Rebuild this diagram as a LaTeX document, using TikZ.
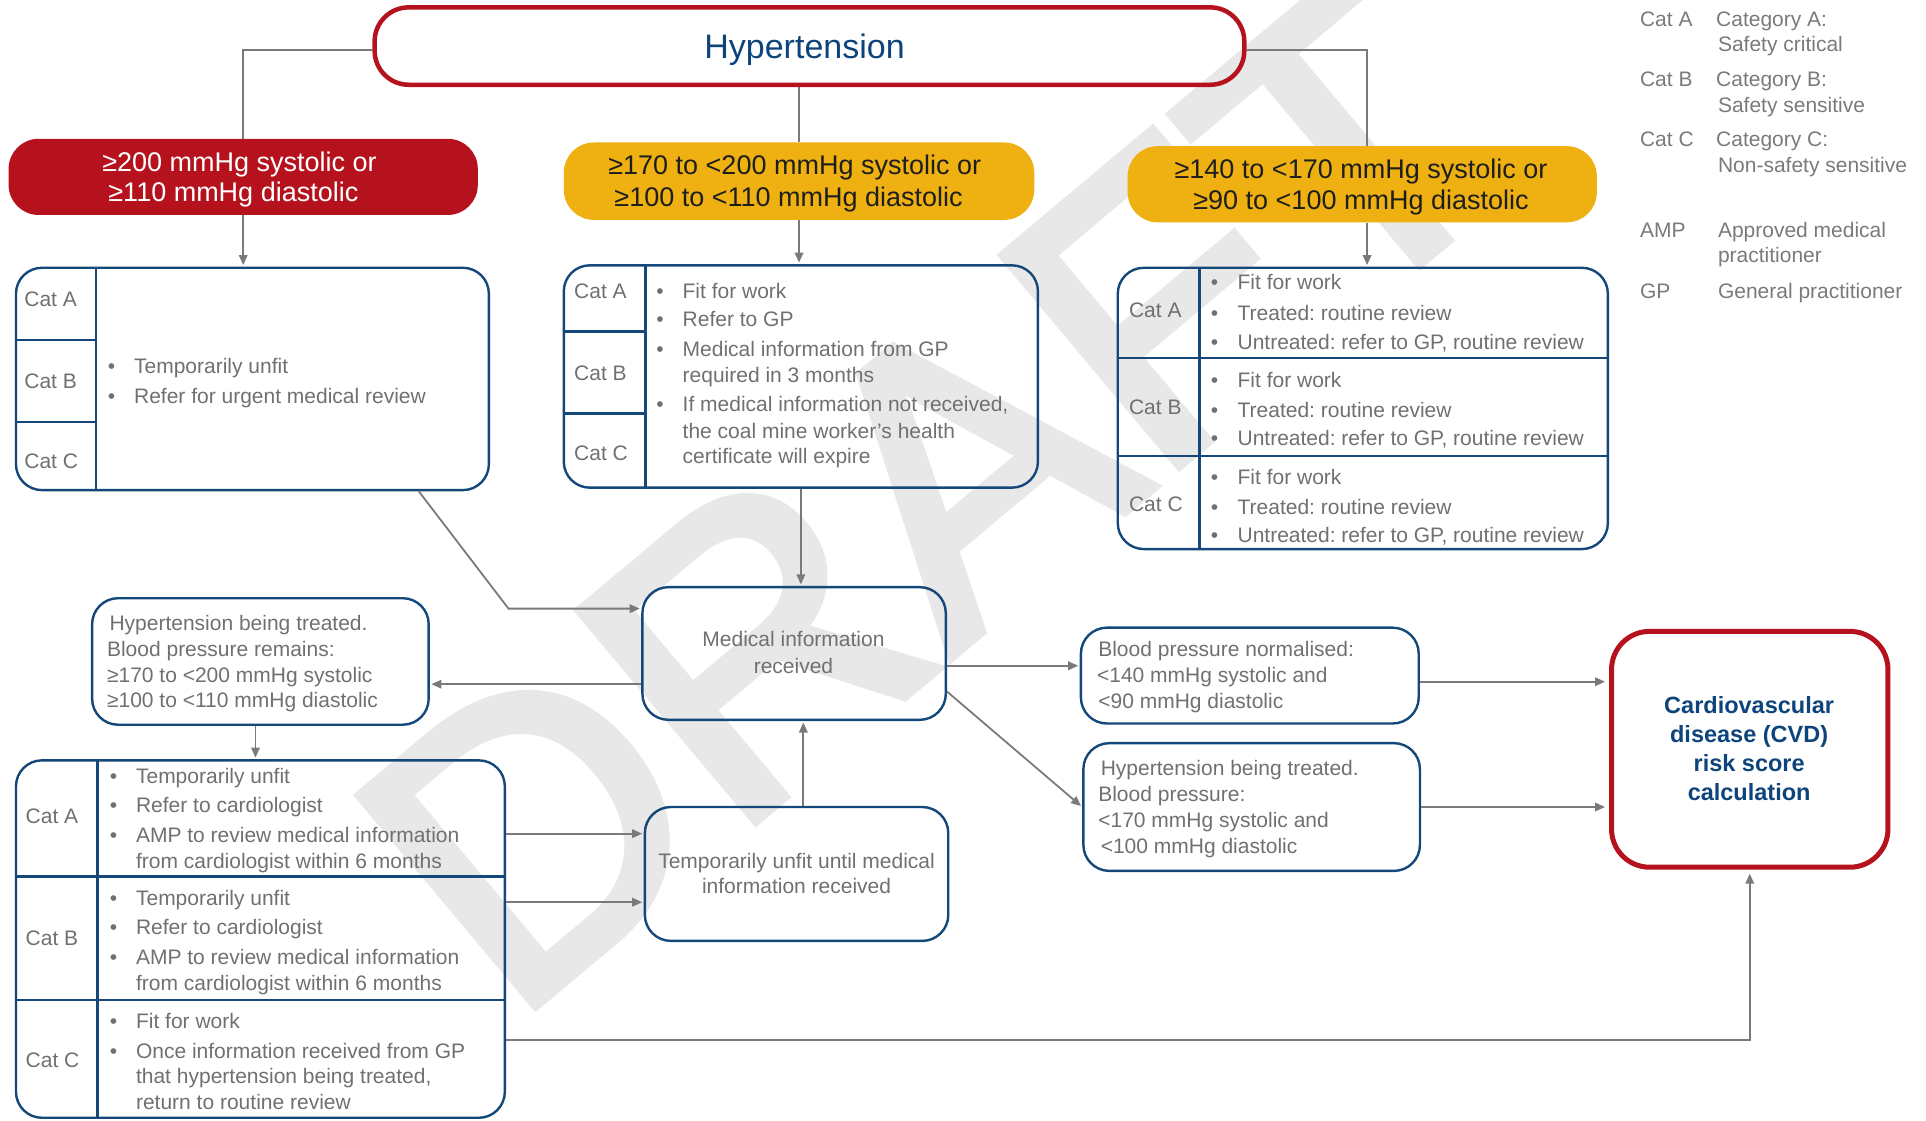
\documentclass[tikz,border=0pt]{standalone}
\usepackage{fontspec}
\setmainfont{Liberation Sans}
\newfontfamily\wmfont[FakeBold=2.5]{Liberation Sans}
\usetikzlibrary{arrows.meta,fit,calc}
\definecolor{hred}{RGB}{181,18,30}
\definecolor{hyel}{RGB}{238,177,17}
\definecolor{hblue}{RGB}{20,72,122}
\definecolor{titleblue}{RGB}{14,68,124}
\definecolor{tgray}{RGB}{112,112,112}
\definecolor{lgray}{RGB}{122,122,122}
\definecolor{wmgray}{RGB}{232,232,232}
\definecolor{dtext}{RGB}{30,30,30}
\frenchspacing
\begin{document}
\begin{tikzpicture}[x=1.2283pt,y=-1.2283pt,
  txt/.style={font=\fontsize{21}{26}\selectfont, text=tgray, inner sep=0pt, text height=15.5pt, text depth=1.5pt, anchor=west},
  ctxt/.style={txt, anchor=center},
  bul/.style={txt, anchor=center},
  hdr/.style={font=\fontsize{27}{32}\selectfont, inner sep=0pt, text height=20pt, text depth=2pt, anchor=center},
  cvdt/.style={font=\fontsize{23.5}{28}\selectfont\bfseries, text=titleblue, inner sep=0pt, text height=17pt, text depth=2pt, anchor=center},
  box/.style={draw=hblue, line width=2.4pt, rounded corners=26pt, inner sep=0pt},
  redbox/.style={draw=hred, line width=4.5pt, rounded corners=34pt, inner sep=0pt},
  fillbox/.style={rounded corners=30pt, inner sep=0pt},
  sep/.style={draw=hblue, line width=2.4pt},
  conn/.style={draw=lgray, line width=1.8pt},
  arr/.style={conn, -{Triangle[length=10pt,width=8.5pt]}, shorten >=1.5pt},
  wm/.style={font=\wmfont\fontsize{398}{398}\selectfont, text=wmgray, inner sep=0pt}
]
\useasboundingbox (0,0) rectangle (1568,912);
% watermark
\node[wm, rotate=40] (wm) at (758,403) {DRAFT};

% ---------- boxes ----------
\node[redbox, fit={(305,6) (1013,69)}] (ht) {};
\node[fillbox, fill=hred, fit={(7,113) (389,175)}] (rb) {};
\node[fillbox, fill=hyel, fit={(459,116) (842,179)}] (yb2) {};
\node[fillbox, fill=hyel, fit={(918,119) (1300,181)}] (yb3) {};
\node[box, fit={(13,218) (398,399)}] (tab1) {};
\node[box, fit={(459,216) (845,397)}] (tab2) {};
\node[box, fit={(910,218) (1309,447)}] (tab3) {};
\node[box, fit={(13,619) (411,910)}] (tab4) {};
\node[box, fit={(523,478) (770,586)}] (med) {};
\node[box, fit={(525,657) (772,766)}] (temp) {};
\node[box, fit={(75,487) (349,590)}] (htl) {};
\node[box, fit={(880,511) (1155,589)}] (bpn) {};
\node[box, fit={(882,605) (1156,709)}] (htr) {};
\node[redbox, line width=5pt, rounded corners=38pt, fit={(1312,514) (1537,706)}] (cvd) {};

% table inner lines
\draw[sep] (78,218) -- (78,399);
\draw[sep] (13,277) -- (78,277);
\draw[sep] (13,343.5) -- (78,343.5);
\draw[sep] (525.5,216) -- (525.5,397);
\draw[sep] (459,270) -- (525.5,270);
\draw[sep] (459,336.5) -- (525.5,336.5);
\draw[sep] (976.5,218) -- (976.5,447);
\draw[sep] (910,291.5) -- (1309,291.5);
\draw[sep] (910,371) -- (1309,371);
\draw[sep] (79.5,619) -- (79.5,910);
\draw[sep] (13,713.5) -- (411,713.5);
\draw[sep] (13,814) -- (411,814);

% ---------- texts ----------
\node[font=\fontsize{34}{40}\selectfont, text=titleblue, inner sep=0pt, text height=25pt, text depth=2pt] (httxt) at (655,38) {Hypertension};
\node[hdr, text=white] (rb1) at (195,132) {≥200 mmHg systolic or};
\node[hdr, text=white] (rb2) at (190,157) {≥110 mmHg diastolic};
\node[hdr, text=dtext] (yb21) at (647,135) {≥170 to <200 mmHg systolic or};
\node[hdr, text=dtext] (yb22) at (642,161) {≥100 to <110 mmHg diastolic};
\node[hdr, text=dtext] (yb31) at (1108,138) {≥140 to <170 mmHg systolic or};
\node[hdr, text=dtext] (yb32) at (1108,163) {≥90 to <100 mmHg diastolic};

% table 1
\node[txt] (t1ca) at (19.7,244) {Cat A};
\node[txt] (t1cb) at (19.7,310.5) {Cat B};
\node[txt] (t1cc) at (19.7,376) {Cat C};
\node[bul] (t1b1) at (90.9,298.5) {•};
\node[txt] (t1l1) at (109,298.5) {Temporarily unfit};
\node[bul] (t1b2) at (90.9,323) {•};
\node[txt] (t1l2) at (109,323) {Refer for urgent medical review};

% table 2
\node[txt] (t2ca) at (467.3,237.5) {Cat A};
\node[txt] (t2cb) at (467.3,304) {Cat B};
\node[txt] (t2cc) at (467.3,369.6) {Cat C};
\node[bul] (t2b1) at (537.4,237) {•};
\node[txt] (t2l1) at (555.6,237) {Fit for work};
\node[bul] (t2b2) at (537.4,260) {•};
\node[txt] (t2l2) at (555.6,260) {Refer to GP};
\node[bul] (t2b3) at (537.4,284.4) {•};
\node[txt] (t2l3) at (555.6,284.4) {Medical information from GP};
\node[txt] (t2l4) at (555.6,306) {required in 3 months};
\node[bul] (t2b5) at (537.4,329) {•};
\node[txt] (t2l5) at (555.6,329) {If medical information not received,};
\node[txt] (t2l6) at (555.6,351) {the coal mine worker’s health};
\node[txt] (t2l7) at (555.6,371.8) {certificate will expire};

% table 3
\node[txt] (t3ca) at (919,253) {Cat A};
\node[txt] (t3cb) at (919,332) {Cat B};
\node[txt] (t3cc) at (919,410.8) {Cat C};
\foreach \r/\ya/\yb/\yc in {a/230.3/255/278.5, b/309.7/333.8/357, c/389/412.9/436}{
  \node[bul] (t3\r b1) at (988.7,\ya) {•};
  \node[txt] (t3\r l1) at (1007.4,\ya) {Fit for work};
  \node[bul] (t3\r b2) at (988.7,\yb) {•};
  \node[txt] (t3\r l2) at (1007.4,\yb) {Treated: routine review};
  \node[bul] (t3\r b3) at (988.7,\yc) {•};
  \node[txt] (t3\r l3) at (1007.4,\yc) {Untreated: refer to GP, routine review};
}

% table 4
\node[txt] (t4ca) at (20.8,664.5) {Cat A};
\node[txt] (t4cb) at (20.8,764) {Cat B};
\node[txt] (t4cc) at (20.8,863.5) {Cat C};
\foreach \r/\ya/\yb/\yc/\yd in {a/631.8/655.7/679.8/701, b/731.6/755.4/779.5/801}{
  \node[bul] (t4\r b1) at (92.4,\ya) {•};
  \node[txt] (t4\r l1) at (110.6,\ya) {Temporarily unfit};
  \node[bul] (t4\r b2) at (92.4,\yb) {•};
  \node[txt] (t4\r l2) at (110.6,\yb) {Refer to cardiologist};
  \node[bul] (t4\r b3) at (92.4,\yc) {•};
  \node[txt] (t4\r l3) at (110.6,\yc) {AMP to review medical information};
  \node[txt] (t4\r l4) at (110.6,\yd) {from cardiologist within 6 months};
}
\node[bul] (t4cb1) at (92.4,831.6) {•};
\node[txt] (t4cl1) at (110.6,831.6) {Fit for work};
\node[bul] (t4cb2) at (92.4,855.7) {•};
\node[txt] (t4cl2) at (110.6,855.7) {Once information received from GP};
\node[txt] (t4cl3) at (110.6,876.7) {that hypertension being treated,};
\node[txt] (t4cl4) at (110.6,897.9) {return to routine review};

% small boxes
\node[ctxt] (med1) at (646,521) {Medical information};
\node[ctxt] (med2) at (646,543) {received};
\node[ctxt] (tmp1) at (648.5,701) {Temporarily unfit until medical};
\node[ctxt] (tmp2) at (648.5,722) {information received};
\node[txt] (htl1) at (89,508) {Hypertension being treated.};
\node[txt] (htl2) at (87,529) {Blood pressure remains:};
\node[txt] (htl3) at (87,549.6) {≥170 to <200 mmHg systolic};
\node[txt] (htl4) at (87,570.5) {≥100 to <110 mmHg diastolic};
\node[txt] (bpn1) at (894,529) {Blood pressure normalised:};
\node[txt] (bpn2) at (893,550) {<140 mmHg systolic and};
\node[txt] (bpn3) at (894,571) {<90 mmHg diastolic};
\node[txt] (htr1) at (896,626) {Hypertension being treated.};
\node[txt] (htr2) at (894,647) {Blood pressure:};
\node[txt] (htr3) at (894,668) {<170 mmHg systolic and};
\node[txt] (htr4) at (896,689) {<100 mmHg diastolic};
\node[cvdt] (cvd1) at (1424,575) {Cardiovascular};
\node[cvdt] (cvd2) at (1424,598.5) {disease (CVD)};
\node[cvdt] (cvd3) at (1424,622) {risk score};
\node[cvdt] (cvd4) at (1424,645.5) {calculation};

% legend
\node[txt, text=lgray] (lg1a) at (1335,15.5) {Cat A};
\node[txt, text=lgray] (lg1b) at (1397,15.5) {Category A:};
\node[txt, text=lgray] (lg1c) at (1398.5,36.5) {Safety critical};
\node[txt, text=lgray] (lg2a) at (1335,64.5) {Cat B};
\node[txt, text=lgray] (lg2b) at (1397,64.5) {Category B:};
\node[txt, text=lgray] (lg2c) at (1398.5,86) {Safety sensitive};
\node[txt, text=lgray] (lg3a) at (1335,113.5) {Cat C};
\node[txt, text=lgray] (lg3b) at (1397,113.5) {Category C:};
\node[txt, text=lgray] (lg3c) at (1398.5,135) {Non-safety sensitive};
\node[txt, text=lgray] (lg4a) at (1335,187.5) {AMP};
\node[txt, text=lgray] (lg4b) at (1398.5,187.5) {Approved medical};
\node[txt, text=lgray] (lg4c) at (1398.5,208) {practitioner};
\node[txt, text=lgray] (lg5a) at (1335,237) {GP};
\node[txt, text=lgray] (lg5b) at (1398.5,237) {General practitioner};

% ---------- connectors ----------
\coordinate (htw) at ($(ht.west)+(0,3)$);
\coordinate (hte) at ($(ht.east)+(0,3)$);
\coordinate (y3n) at ($(yb3.north)+(4,0)$);
\coordinate (y3s) at ($(yb3.south)+(4,0)$);
\draw[conn] (htw) -| (rb.north);
\draw[conn] (hte) -| (y3n);
\draw[conn] (yb2.north |- ht.south) -- (yb2.north);
\draw[arr] (rb.south) -- (rb.south |- tab1.north);
\draw[arr] (yb2.south) -- (yb2.south |- tab2.north);
\draw[arr] (y3s) -- (y3s |- tab3.north);

\coordinate (t1out) at ($(tab1.south west)!0.85!(tab1.south east)$);
\coordinate (bend1) at (414,495.5);
\draw[arr] (t1out) -- (bend1) -- (bend1 -| med.west);
\draw[arr] (tab2.south) -- (tab2.south |- med.north);
\coordinate (tmpup) at ($(temp.north)+(5.5,0)$);
\draw[arr] (tmpup) -- (tmpup |- med.south);
\coordinate (m1) at ($(med.west)+(0,25)$);
\draw[arr] (m1) -- (m1 -| htl.east);
\coordinate (h1) at ($(htl.south)+(-4,0)$);
\draw[arr] (h1) -- (h1 |- tab4.north);
\coordinate (ya) at (0,678.7);
\coordinate (yb) at (0,734.5);
\draw[arr] (tab4.east |- ya) -- (temp.west |- ya);
\draw[arr] (tab4.east |- yb) -- (temp.west |- yb);
\coordinate (m2) at ($(med.east)+(0,10)$);
\draw[arr] (m2) -- (m2 -| bpn.west);
\coordinate (m3) at ($(med.east)+(0,31)$);
\draw[arr] (m3) -- (htr.west);
\coordinate (b1) at ($(bpn.east)+(0,5)$);
\draw[arr, shorten >=4pt] (b1) -- (b1 -| cvd.west);
\draw[arr, shorten >=4pt] (htr.east) -- (htr.east -| cvd.west);
\coordinate (yc) at (0,846.4);
\draw[arr, shorten >=4pt] (tab4.east |- yc) -| (cvd.south);
\end{tikzpicture}
\end{document}
